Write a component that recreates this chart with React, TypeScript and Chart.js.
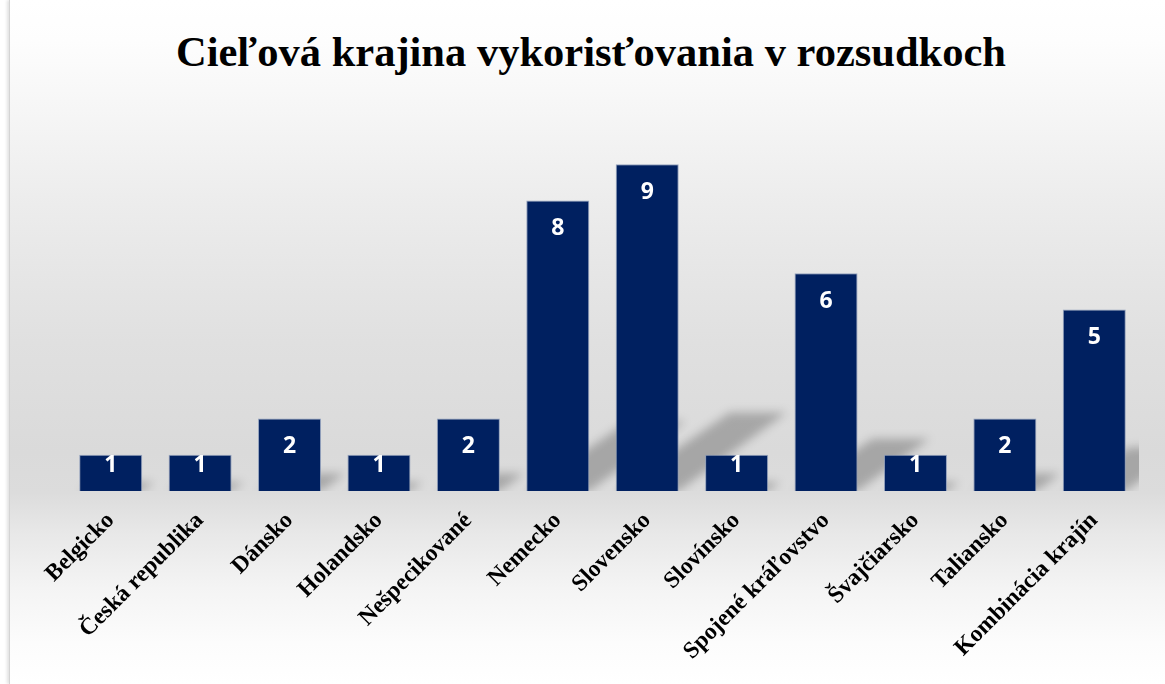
import React, { useEffect, useRef } from "react";
import { Chart, registerables } from "chart.js";

Chart.register(...registerables);

const titleText = "Cieľová krajina vykorisťovania v rozsudkoch";
const categories = [
  "Belgicko",
  "Česká republika",
  "Dánsko",
  "Holandsko",
  "Nešpecikované",
  "Nemecko",
  "Slovensko",
  "Slovínsko",
  "Spojené kráľovstvo",
  "Švajčiarsko",
  "Taliansko",
  "Kombinácia krajín",
];
const values = [1, 1, 2, 1, 2, 8, 9, 1, 6, 1, 2, 5];
const yMin = 0;
const yMax = 10;

const barColor = "#002060";

const shadowPlugin = {
  id: "barShadow",
  beforeDatasetsDraw(chart: any) {
    const { ctx, chartArea } = chart;
    const meta = chart.getDatasetMeta(0);
    ctx.save();
    ctx.beginPath();
    ctx.rect(chartArea.left, chartArea.top - 40, chartArea.right - chartArea.left, chartArea.bottom - chartArea.top + 40);
    ctx.clip();
    ctx.filter = "blur(5px)";
    ctx.fillStyle = "rgba(0,0,0,0.24)";
    meta.data.forEach((bar: any) => {
      const { x, y, base, width } = bar.getProps(["x", "y", "base", "width"], true);
      const h = base - y;
      const x0 = x - width / 2;
      const x1 = x + width / 2;
      const dy = h * 0.24;
      const dx = h * 0.33;
      ctx.beginPath();
      ctx.moveTo(x0, base);
      ctx.lineTo(x1, base);
      ctx.lineTo(x1 + dx, base - dy);
      ctx.lineTo(x0 + dx + width * 0.1, base - dy);
      ctx.closePath();
      ctx.fill();
    });
    ctx.restore();
  },
};

const valueLabelPlugin = {
  id: "valueLabels",
  afterDatasetsDraw(chart: any) {
    const { ctx } = chart;
    const meta = chart.getDatasetMeta(0);
    const data = chart.data.datasets[0].data;
    ctx.save();
    ctx.fillStyle = "#ffffff";
    ctx.font = 'bold 23px "Open Sans"';
    ctx.textAlign = "center";
    ctx.textBaseline = "middle";
    meta.data.forEach((bar: any, i: number) => {
      const { x, y, base } = bar.getProps(["x", "y", "base"], true);
      const ly = Math.min(y + 28, base - 26);
      ctx.fillText(String(data[i]), x, ly);
    });
    ctx.restore();
  },
};

export default function App() {
  const canvasRef = useRef<HTMLCanvasElement | null>(null);

  useEffect(() => {
    if (!canvasRef.current) return;
    const chart = new Chart(canvasRef.current, {
      type: "bar",
      data: {
        labels: categories,
        datasets: [
          {
            data: values,
            backgroundColor: barColor,
            borderColor: "rgba(140,155,185,0.9)",
            borderWidth: 1,
            barPercentage: 0.705,
            categoryPercentage: 1,
          },
        ],
      },
      options: {
        responsive: false,
        animation: false,
        devicePixelRatio: 1,
        layout: { padding: { left: 66, right: 26, top: 128, bottom: 0 } },
        plugins: {
          legend: { display: false },
          title: { display: false },
          tooltip: { enabled: false },
        },
        scales: {
          x: {
            type: "category",
            offset: true,
            grid: { display: false, drawTicks: false },
            border: { display: false },
            ticks: {
              autoSkip: false,
              minRotation: 45,
              maxRotation: 45,
              padding: 16,
              color: "#000000",
              font: { family: '"Liberation Serif", "Times New Roman", serif', size: 23.5, weight: "bold" },
            },
            afterFit: (scale: any) => {
              scale.height = 193;
            },
          },
          y: {
            display: false,
            min: yMin,
            max: yMax,
          },
        },
      },
      plugins: [shadowPlugin, valueLabelPlugin],
    });
    return () => chart.destroy();
  }, []);

  return (
    <div style={{ position: "fixed", left: 0, top: 0, width: 1165, height: 684, background: "#ffffff", overflow: "hidden" }}>
      <div
        style={{
          position: "absolute",
          left: 9,
          top: 0,
          width: 1156,
          height: 684,
          borderLeft: "1px solid #d4d4d4",
          boxShadow: "-2px 0 3px rgba(0,0,0,0.12)",
          background:
            "linear-gradient(to bottom, #ffffff 0%, #fdfdfd 6%, #f6f6f6 16%, #ececec 30%, #e0e0e0 50%, #dadada 66%, #dcdcdc 72%, #e8e8e8 78%, #f4f4f4 86%, #fcfcfc 94%, #ffffff 100%)",
        }}
      />
      <div
        style={{
          position: "absolute",
          left: 0,
          top: 27,
          width: 1182,
          textAlign: "center",
          lineHeight: "50px",
          fontFamily: '"Liberation Serif", "Times New Roman", serif',
          fontWeight: "bold",
          fontSize: 42.5,
          color: "#000000",
          whiteSpace: "nowrap",
        }}
      >
        {titleText}
      </div>
      <canvas
        ref={canvasRef}
        width={1165}
        height={684}
        style={{ position: "absolute", left: 0, top: 0, width: 1165, height: 684, display: "block" }}
      />
    </div>
  );
}
